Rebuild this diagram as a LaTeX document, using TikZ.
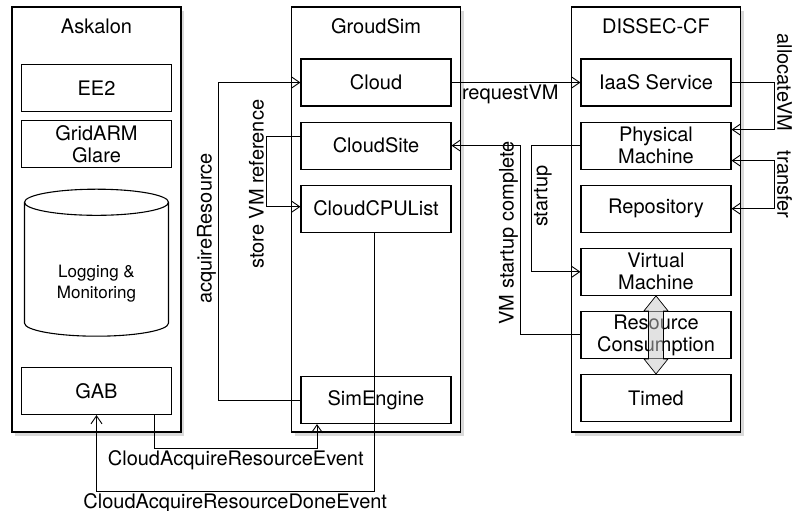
\documentclass[tikz,border=0pt]{standalone}
\usepackage{fontspec}
\setmainfont{TeX Gyre Heros}
\usepackage{tikz}
\usetikzlibrary{arrows.meta,positioning,shadows,shapes.geometric}
\tikzstyle{frame} = [
    rectangle,
    minimum width=169pt,
    minimum height=425pt,
    draw=black,
    line width=1.5pt,
    fill=white,
    drop shadow={opacity=0.3, shadow xshift=3pt, shadow yshift=-4pt}
]
\tikzstyle{title} = [
    font=\fontsize{20}{22}\selectfont
]
\tikzstyle{box} = [
    rectangle,
    minimum width=150pt,
    minimum height=47pt,
    inner sep=0pt,
    align=center,
    draw=black,
    line width=1.1pt,
    fill=white,
    font=\fontsize{20}{22}\selectfont
]
\tikzstyle{store} = [
    cylinder,
    shape border rotate=90,
    aspect=0.33,
    minimum width=144pt,
    minimum height=147pt,
    inner sep=0pt,
    draw=black,
    line width=1.1pt,
    fill=white,
    font=\fontsize{17}{21}\selectfont
]
\tikzstyle{fatarrow} = [
    draw=black,
    line width=0.7pt,
    fill=gray!45,
    fill opacity=0.5
]
\tikzstyle{link} = [
    line width=0.9pt,
    draw=black
]
\tikzstyle{arrow} = [
    link,
    -{Straight Barb[length=8pt,width=11pt]}
]
\tikzstyle{twoway} = [
    link,
    {Straight Barb[length=8pt,width=11pt]}-{Straight Barb[length=8pt,width=11pt]}
]
\tikzstyle{lbl} = [
    font=\fontsize{20}{22}\selectfont,
    inner sep=2pt
]

\begin{document}
\begin{tikzpicture}[x=1pt,y=-1pt]
    \useasboundingbox (0,0) rectangle (792,511);

    \node[frame] (askalon) at (96.5,219.5) {};
    \node[frame] (groudsim) at (376,219.5) {};
    \node[frame] (dissec) at (656,219.5) {};
    \node[title] (askalontitle) at ([yshift=-20pt]askalon.north) {Askalon};
    \node[title] (groudsimtitle) at ([yshift=-20pt]groudsim.north) {GroudSim};
    \node[title] (dissectitle) at ([yshift=-20pt]dissec.north) {DISSEC-CF};

    \node[box] (ee2) at (96.5,88) {EE2};
    \node[box, below=8pt of ee2] (gridarm) {GridARM\\Glare};
    \node[store] (logging) at (96.5,269.5)
        {\raisebox{-14pt}[\height][\depth]{\begin{tabular}{@{}c@{}}Logging \&\\Monitoring\end{tabular}}};
    \node[box] (gab) at (96.5,391) {GAB};

    \node[box] (cloud) at (376,82.5) {Cloud};
    \node[box, below=15pt of cloud] (cloudsite) {CloudSite};
    \node[box, below=15pt of cloudsite] (cpulist) {CloudCPUList};
    \node[box] (simengine) at (376,400) {SimEngine};

    \node[box] (iaas) at (656,82.5) {IaaS Service};
    \node[box, below=15pt of iaas] (pm) {Physical\\Machine};
    \node[box, below=15pt of pm] (repo) {Repository};
    \node[box, below=15pt of repo] (vm) {Virtual\\Machine};
    \node[box, below=15pt of vm] (rc) {Resource\\Consumption};
    \node[box, below=15pt of rc] (timed) {Timed};

    \draw[arrow] (simengine.west) -- ++(-82,0) |- (cloud.west)
        node[lbl, pos=0.27, rotate=90, anchor=south] {acquireResource};
    \draw[arrow] ([yshift=9pt]cloudsite.west) -- ++(-34,0) |- ([yshift=2pt]cpulist.west)
        node[lbl, pos=0.34, rotate=90, anchor=south] {store VM reference};
    \draw[arrow] (cloud.east) -- (iaas.west)
        node[lbl, pos=0, anchor=north west, xshift=8pt] {requestVM};
    \draw[arrow] (iaas.east) -- ++(43,0)
        node[lbl, pos=1, rotate=-90, anchor=south] {allocateVM}
        |- ([yshift=16pt]pm.east);
    \draw[twoway] ([yshift=-15pt]pm.east) -- ++(43,0) |- (repo.east)
        node[lbl, pos=0.25, rotate=-90, anchor=south] {transfer};
    \draw[arrow] (pm.west) -- ++(-49,0) |- (vm.west)
        node[lbl, pos=0.2, rotate=90, anchor=north] {startup};
    \draw[arrow] (rc.west) -- ++(-60,0) |- (cloudsite.east)
        node[lbl, pos=0.27, rotate=90, anchor=south] {VM startup complete};
    \draw[arrow] ([xshift=58pt]gab.south) -- ++(0,33) -| ([xshift=-59pt]simengine.south)
        node[lbl, pos=0.25, below] {CloudAcquireResourceEvent};
    \draw[arrow] ([xshift=-2pt]cpulist.south) -- ++(0,259) -| (gab.south)
        node[lbl, pos=0.25, below, inner sep=1pt] {CloudAcquireResourceDoneEvent};

    % fat two-way arrow from the VM down to Timed
    \draw[fatarrow] (vm.south)
        -- ([xshift=12pt,yshift=-15pt]vm.south) -- ([xshift=7.5pt,yshift=-15pt]vm.south)
        -- ([xshift=7.5pt,yshift=15pt]timed.north) -- ([xshift=12pt,yshift=15pt]timed.north)
        -- (timed.north)
        -- ([xshift=-12pt,yshift=15pt]timed.north) -- ([xshift=-7.5pt,yshift=15pt]timed.north)
        -- ([xshift=-7.5pt,yshift=-15pt]vm.south) -- ([xshift=-12pt,yshift=-15pt]vm.south)
        -- cycle;
\end{tikzpicture}
\end{document}
